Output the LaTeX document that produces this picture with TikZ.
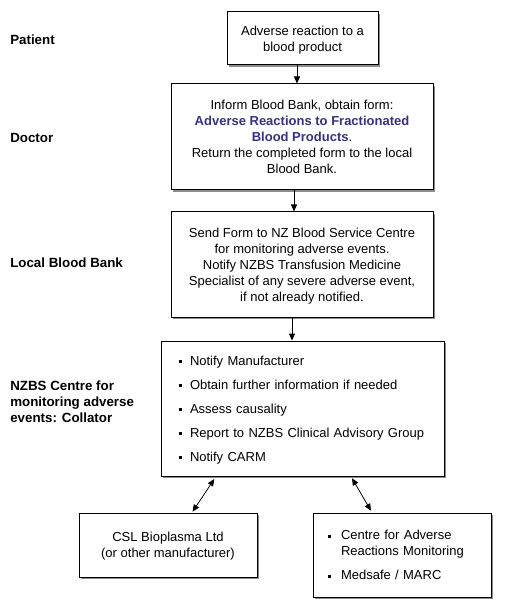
\documentclass[tikz,border=0pt]{standalone}
\usepackage{fontspec}
\setmainfont{Liberation Sans}
\usetikzlibrary{arrows.meta,shadows}
\definecolor{formblue}{RGB}{51,51,128}
\newcommand{\bul}{\rule[1.6pt]{2.2pt}{2.2pt}}
\newcommand{\tstr}{\rule{0pt}{10pt}}
\newcommand{\bstr}{\rule[-3pt]{0pt}{3pt}}
\tikzset{
  box/.style={draw, line width=0.75pt, fill=white, inner sep=0pt, align=center,
    drop shadow={shadow xshift=1.5pt, shadow yshift=-1.5pt, fill=black, opacity=0.45}},
  lab/.style={anchor=west, font=\bfseries, align=left, inner sep=0pt},
  arr/.style={-{Triangle[length=5.25pt,width=4.5pt]}, line width=0.75pt},
  darr/.style={{Triangle[length=5.25pt,width=4.5pt]}-{Triangle[length=5.25pt,width=4.5pt]}, line width=0.6pt},
}
\begin{document}
\begin{tikzpicture}[x=0.75pt, y=-0.75pt, font=\fontsize{9.75pt}{12pt}\selectfont]
\useasboundingbox (0,0) rectangle (504,609);
% side labels
\node[lab] (lpat) at (10,40) {Patient};
\node[lab] (ldoc) at (10,138) {Doctor};
\node[lab] (llbb) at (10,263) {Local Blood Bank};
\node[lab] (lnzbs) at (10,402) {NZBS Centre for\\monitoring adverse\\events: Collator};
% boxes
\node[box, minimum width=151*0.75pt, minimum height=53*0.75pt] (box1) at (302.5,38.5)
  {\tstr Adverse reaction to a\\blood product\bstr};
\node[box, minimum width=262*0.75pt, minimum height=106*0.75pt] (box2) at (302,137)
  {\tstr Inform Blood Bank, obtain form:\\
   {\bfseries\color{formblue}Adverse Reactions to Fractionated}\\
   {\bfseries\color{formblue}Blood Products}.\\
   Return the completed form to the local\\Blood Bank.\bstr};
\node[box, minimum width=262*0.75pt, minimum height=105*0.75pt] (box3) at (302,264.5)
  {\tstr Send Form to NZ Blood Service Centre\\for monitoring adverse events.\\
   Notify NZBS Transfusion Medicine\\Specialist of any severe adverse event,\\
   if not already notified.\bstr};
\node[box, align=left, inner xsep=13.5pt, text width=185.25pt,
      minimum width=283*0.75pt, minimum height=135*0.75pt] (box4) at (302.5,408.5)
  {\tstr\makebox[8.25pt][l]{\bul}Notify Manufacturer\\[6pt]
   \makebox[8.25pt][l]{\bul}Obtain further information if needed\\[6pt]
   \makebox[8.25pt][l]{\bul}Assess causality\\[6pt]
   \makebox[8.25pt][l]{\bul}Report to NZBS Clinical Advisory Group\\[6pt]
   \makebox[8.25pt][l]{\bul}Notify CARM\bstr};
\node[box, minimum width=178*0.75pt, minimum height=64*0.75pt] (box5) at (168,545)
  {\tstr CSL Bioplasma Ltd\\(or other manufacturer)\bstr};
\node[box, align=left, inner xsep=11.25pt, text width=111pt,
      minimum width=178*0.75pt, minimum height=84*0.75pt] (box6) at (402,555)
  {\tstr\makebox[9.75pt][l]{\bul}Centre for Adverse\\
   \hspace*{9.75pt}Reactions Monitoring\\[6pt]
   \makebox[9.75pt][l]{\bul}Medsafe / MARC\bstr};
% connectors
\coordinate (cA) at (297,0);
\coordinate (cB) at (294,0);
\coordinate (cC) at (292,0);
\coordinate (dA) at (216,0);
\coordinate (dB) at (192,0);
\coordinate (dC) at (351,0);
\coordinate (dD) at (372,0);
\draw[arr] (box1.south -| cA) -- (box2.north -| cA);
\draw[arr] (box2.south -| cB) -- (box3.north -| cB);
\draw[arr] (box3.south -| cC) -- (box4.north -| cC);
\draw[darr, shorten <=2.25pt, shorten >=0.75pt] (box4.south -| dA) -- (box5.north -| dB);
\draw[darr, shorten <=1.5pt, shorten >=1.5pt] (box4.south -| dC) -- (box6.north -| dD);
\end{tikzpicture}
\end{document}
